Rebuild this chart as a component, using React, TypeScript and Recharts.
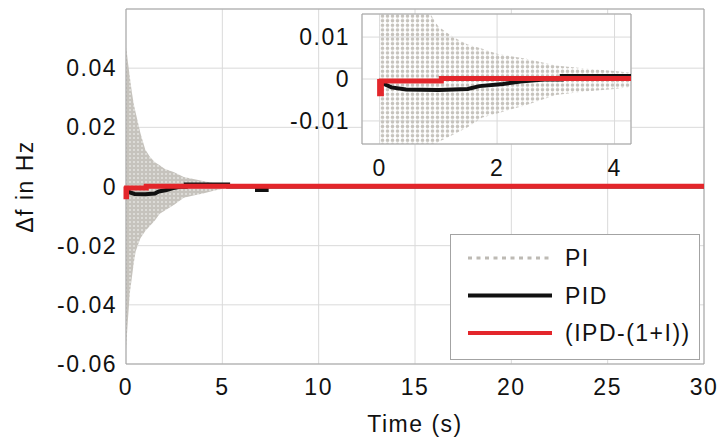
import {
  ComposedChart,
  Area,
  Line,
  XAxis,
  YAxis,
  CartesianGrid,
  ReferenceArea,
  Label,
} from 'recharts';

// axis ticks
const MAIN_X_TICKS = [0, 5, 10, 15, 20, 25, 30];
const MAIN_Y_TICKS = [-0.06, -0.04, -0.02, 0, 0.02, 0.04];
const INSET_X_TICKS = [0, 2, 4];
const INSET_Y_TICKS = [-0.01, 0, 0.01];

// PI: fast oscillation, kept as its upper / lower envelope
const PI_TIME = [0, 0.05, 0.1, 0.2, 0.3, 0.4, 0.5, 0.75, 1.0, 1.25, 1.5, 1.75, 2.0, 2.5, 3.0, 3.5, 4.0, 4.5, 5.0, 5.5];
const PI_UPPER = [0.047, 0.045, 0.042, 0.037, 0.032, 0.028, 0.025, 0.018, 0.0125, 0.01, 0.0082, 0.0072, 0.006, 0.0048, 0.0032, 0.0025, 0.0019, 0.0012, 0.0006, 0];
const PI_LOWER = [-0.055, -0.05, -0.045, -0.036, -0.031, -0.026, -0.022, -0.0175, -0.015, -0.0133, -0.0115, -0.0092, -0.0082, -0.0062, -0.0038, -0.003, -0.0024, -0.0015, -0.0008, 0];

// PID
const PID_TIME = [0.05, 0.2, 0.45, 1.0, 1.5, 1.7, 2.1, 2.4, 2.8, 3.1, 3.1, 5.3, 5.3, 6.8, 6.8, 7.3, 7.3, 30];
const PID_VALUE = [-0.001, -0.002, -0.0025, -0.0026, -0.0024, -0.0017, -0.0012, -0.0006, -0.0001, -0.0001, 0.0007, 0.0007, 0, 0, -0.0012, -0.0012, 0, 0];

// (IPD-(1+I))
const IPD_TIME = [0, 0, 0.03, 0.03, 1.05, 1.05, 30];
const IPD_VALUE = [0, -0.0035, -0.0035, -0.0005, -0.0005, 0.0001, 0.0001];

const piData = PI_TIME.map((t, i) => ({ t, band: [PI_LOWER[i], PI_UPPER[i]] }));
const pidData = PID_TIME.map((t, i) => ({ t, v: PID_VALUE[i] }));
const ipdData = IPD_TIME.map((t, i) => ({ t, v: IPD_VALUE[i] }));

const FONT = '"Liberation Sans", Arial, sans-serif';
const GREY = '#c6c3bd';
const RED = '#e3262b';
const BLACK = '#111111';
const GRID = '#dadada';
const BOX = '#a3a3a3';

const tickStyle = { fontSize: 23, fill: '#111', fontFamily: FONT, letterSpacing: 1.5 };
const titleStyle = { fontSize: 23, fontFamily: FONT, fill: '#111', letterSpacing: 1.5 };

const LEGEND = [
  { name: 'PI', color: '#bdbab4', width: 3, dash: '4 4.5' },
  { name: 'PID', color: BLACK, width: 4, dash: undefined },
  { name: '(IPD-(1+I))', color: RED, width: 4, dash: undefined },
];

function YTitle({ viewBox }: any) {
  const cx = viewBox.x + 25;
  const cy = viewBox.y + viewBox.height / 2;
  return (
    <text
      x={cx}
      y={cy}
      transform={`rotate(-90 ${cx} ${cy})`}
      textAnchor="middle"
      dominantBaseline="central"
      style={titleStyle}
    >
      Δf in Hz
    </text>
  );
}

function Inset() {
  return (
    <ComposedChart width={356} height={186} margin={{ top: 14, right: 5, bottom: 10, left: 0 }}>
      <defs>
        <pattern id="piDots" patternUnits="userSpaceOnUse" width="5" height="4.6">
          <circle cx="2.5" cy="2.3" r="1.75" fill={GREY} />
        </pattern>
      </defs>
      <CartesianGrid stroke={GRID} fill="#fff" fillOpacity={1} />
      <XAxis
        type="number"
        dataKey="t"
        domain={[-0.3, 4.28]}
        ticks={INSET_X_TICKS}
        allowDataOverflow
        height={32}
        axisLine={false}
        tickLine={false}
        tickMargin={10}
        tick={tickStyle}
      />
      <YAxis
        type="number"
        domain={[-0.0155, 0.0155]}
        ticks={INSET_Y_TICKS}
        allowDataOverflow
        width={82}
        axisLine={false}
        tickLine={false}
        tickMargin={6}
        tick={tickStyle}
      />
      <Area data={piData} dataKey="band" stroke="none" fill="url(#piDots)" fillOpacity={1} isAnimationActive={false} />
      <Line data={pidData} dataKey="v" stroke={BLACK} strokeWidth={4} dot={false} isAnimationActive={false} />
      <Line data={ipdData} dataKey="v" stroke={RED} strokeWidth={5} dot={false} isAnimationActive={false} />
      <ReferenceArea x1={-0.3} x2={4.28} y1={-0.0155} y2={0.0155} fill="none" stroke={BOX} />
    </ComposedChart>
  );
}

export default function App() {
  return (
    <div style={{ position: 'relative', width: 721, height: 438, background: '#fff' }}>
      <style>{'body { margin: 0; }'}</style>
      <ComposedChart width={721} height={438} margin={{ top: 9, right: 17, bottom: 0, left: 0 }}>
        <defs>
          <pattern id="piFill" patternUnits="userSpaceOnUse" width="4" height="4">
            <rect width="4" height="4" fill={GREY} />
            <circle cx="2" cy="2" r="0.75" fill="#fff" />
          </pattern>
        </defs>
        <CartesianGrid stroke={GRID} />
        <XAxis
          type="number"
          dataKey="t"
          domain={[0, 30]}
          ticks={MAIN_X_TICKS}
          height={74}
          axisLine={false}
          tickLine={false}
          tickMargin={9}
          tick={tickStyle}
        >
          <Label value="Time (s)" position="insideBottom" offset={6} style={titleStyle} />
        </XAxis>
        <YAxis
          type="number"
          domain={[-0.06, 0.06]}
          ticks={MAIN_Y_TICKS}
          width={126}
          axisLine={false}
          tickLine={false}
          tickMargin={3}
          tick={tickStyle}
        >
          <Label content={YTitle} />
        </YAxis>
        <Area data={piData} dataKey="band" stroke="none" fill="url(#piFill)" fillOpacity={1} isAnimationActive={false} />
        <Line data={pidData} dataKey="v" stroke={BLACK} strokeWidth={4} dot={false} isAnimationActive={false} />
        <Line data={ipdData} dataKey="v" stroke={RED} strokeWidth={5} dot={false} isAnimationActive={false} />
        <ReferenceArea x1={0} x2={30} y1={-0.06} y2={0.06} fill="none" stroke={BOX} />
      </ComposedChart>

      <div style={{ position: 'absolute', left: 280, top: 0 }}>
        <Inset />
      </div>

      {/* legend box */}
      <div
        style={{
          position: 'absolute',
          left: 450,
          top: 234,
          width: 250,
          height: 126,
          border: `1px solid ${BOX}`,
          background: '#fff',
          boxSizing: 'border-box',
        }}
      >
        <svg width={248} height={124}>
          {LEGEND.map((item, i) => {
            const y = 23 + i * 37.5;
            return (
              <g key={item.name}>
                <line x1={17} x2={101} y1={y} y2={y} stroke={item.color} strokeWidth={item.width} strokeDasharray={item.dash} />
                <text x={114} y={y} dominantBaseline="central" style={titleStyle}>
                  {item.name}
                </text>
              </g>
            );
          })}
        </svg>
      </div>
    </div>
  );
}
